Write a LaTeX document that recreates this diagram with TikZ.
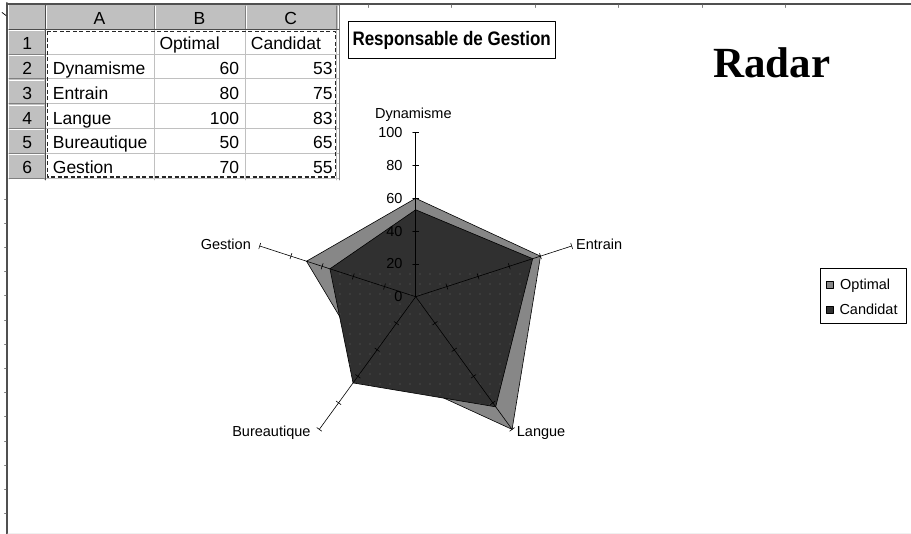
\documentclass[tikz,border=0pt]{standalone}
\usepackage{fontspec}
\setmainfont{Liberation Sans}
\newfontfamily\radarfont{Liberation Serif}
\usetikzlibrary{patterns.meta}
\definecolor{hdrgray}{HTML}{C0C0C0}
\definecolor{edgegray}{HTML}{808080}
\definecolor{optgray}{HTML}{878787}
\definecolor{candgray}{HTML}{303030}
\definecolor{framegray}{HTML}{505050}
\tikzset{
  cell/.style={inner sep=0pt, font=\fontsize{17.5}{20}\selectfont},
  chartlbl/.style={inner sep=0pt, font=\fontsize{14.5}{17}\selectfont},
  radaxis/.style={line width=0.6pt, black},
  optimal/.style={fill=optgray, draw=black, line width=0.6pt},
  candidat/.style={fill=candgray, draw=black, line width=0.6pt},
}
\begin{document}
\begin{tikzpicture}[line cap=round,line join=round,x=1pt,y=-1pt]
		\useasboundingbox (0,0) rectangle (911,534);
		\fill[white] (0,0) rectangle (911,534);
		% frame
		\draw[line width=1.8pt, framegray] (7,4) -- (911,4);
		\draw[line width=2pt, framegray] (7,3) -- (7,534);
		\draw[line width=0.8pt, gray!12] (8,533) -- (911,533);
		\draw[line width=0.7pt] (2,12.5) -- (6,15.5);
		\foreach \i in {0,...,5} \draw[edgegray, line width=0.8pt] (368+83.5*\i,5) -- (368+83.5*\i,7.5);
		\foreach \i in {0,...,13} \draw[edgegray, line width=0.8pt] (4.5,199+24.2*\i) -- (6,199+24.2*\i);
		% spreadsheet
		\fill[hdrgray] (9,5.5) rectangle (339,29.3);
		\fill[hdrgray] (9,5.5) rectangle (45,180);
		\foreach \x in {45,154,245,336.7} {
			\draw[edgegray, line width=1pt] (\x,6) -- (\x,29.3);
			\draw[white, line width=0.8pt] (\x+1.3,6) -- (\x+1.3,28.5);
		}
		\foreach \r in {0,...,6} {
			\draw[edgegray, line width=1pt] (9,29.3+24.8*\r) -- (45,29.3+24.8*\r);
			\draw[white, line width=0.8pt] (9.5,30.6+24.8*\r) -- (44,30.6+24.8*\r);
			\draw[hdrgray, line width=0.8pt] (45,29.3+24.8*\r) -- (339,29.3+24.8*\r);
		}
		\foreach \x in {154,245,336.7} \draw[hdrgray, line width=0.8pt] (\x,29.3) -- (\x,180);
		\draw[edgegray, line width=0.8pt] (339,5) -- (339,180);
		\draw[black!70, line width=1pt] (9,29.3) -- (339,29.3);
		\draw[black!70, line width=1pt] (45,5.5) -- (45,180);
		% headers
		\node[cell, anchor=base] (hA) at (99.5,25) {A};
		\node[cell, anchor=base] (hB) at (199.5,25) {B};
		\node[cell, anchor=base] (hC) at (290.8,25) {C};
		\foreach \r in {1,...,6} \node[cell, anchor=base] (n\r) at (27.3,25+24.8*\r) {\r};
		% cells
		\node[cell, anchor=base west] (B1) at (159.3,50) {Optimal};
		\node[cell, anchor=base west] (C1) at (250.7,50) {Candidat};
		\foreach \r/\lbl/\opt/\cand in {2/Dynamisme/60/53, 3/Entrain/80/75, 4/Langue/100/83, 5/Bureautique/50/65, 6/Gestion/70/55} {
			\node[cell, anchor=base west] (A\r) at (52.7,25+24.8*\r) {\lbl};
			\node[cell, anchor=base east] (B\r) at (239.3,25+24.8*\r) {\opt};
			\node[cell, anchor=base east] (C\r) at (332.7,25+24.8*\r) {\cand};
		}
		\draw[dash pattern=on 4pt off 2.5pt, line width=1.7pt, line cap=butt, black!85] (47.5,31.5) rectangle (335.5,177.3);
		% titles
		\node (titre) [draw, line width=1pt, minimum width=206.7pt, minimum height=36.6pt, inner sep=0pt,
			font=\bfseries\fontsize{17}{20}\selectfont] at (451.7,40) {\scalebox{1}[1.15]{Responsable de Gestion}};
		\node (radar) [inner sep=0pt, anchor=base, font=\radarfont\bfseries\fontsize{43}{48}\selectfont] at (771.7,77.3) {Radar};
		% radar chart
		\begin{scope}[shift={(415.7,296.7)}, x=1.64pt, y=1.64pt]
			\coordinate (O) at (0,0);
			\coordinate (aDyn) at (90:100);
			\coordinate (aEnt) at (18:100);
			\coordinate (aLan) at (-54:100);
			\coordinate (aBur) at (-126:100);
			\coordinate (aGes) at (162:100);
			\draw[optimal] (90:60) -- (18:80) -- (-54:100) -- (-126:50) -- (162:70) -- cycle;
			\draw[candidat] (90:53) -- (18:75) -- (-54:83) -- (-126:65) -- (162:55) -- cycle;
			\begin{scope}
				\clip (90:53) -- (18:75) -- (-54:83) -- (-126:65) -- (162:55) -- cycle;
				\fill[pattern={Dots[distance=10pt, radius=0.45pt]}, pattern color=gray!55] (-110,18) rectangle (110,-110);
			\end{scope}
			\draw[radaxis, line width=1pt] (O) -- (aDyn);
			\foreach \p in {aEnt,aLan,aBur,aGes} \draw[radaxis] (O) -- (\p);
			\foreach \a in {90,18,-54,-126,162}
				\foreach \r in {20,40,...,100}
					\draw[radaxis, rotate=\a] (\r,-1.8) -- (\r,1.8);
			\foreach \v in {0,20,...,100} \node[chartlbl, anchor=east] (t\v) at (-7.9,\v) {\v};
			\node[chartlbl, anchor=base] (lDyn) at ([xshift=-2.4pt, yshift=14.4pt]aDyn) {Dynamisme};
			\node[chartlbl, anchor=base west] (lEnt) at ([xshift=4.3pt, yshift=-3.3pt]aEnt) {Entrain};
			\node[chartlbl, anchor=base west] (lLan) at ([xshift=4.6pt, yshift=-7.3pt]aLan) {Langue};
			\node[chartlbl, anchor=base east] (lBur) at ([xshift=-8.6pt, yshift=-7.3pt]aBur) {Bureautique};
			\node[chartlbl, anchor=base east] (lGes) at ([xshift=-8.7pt, yshift=-3.3pt]aGes) {Gestion};
		\end{scope}
		% legend
		\node (legend) [draw, line width=0.8pt, minimum width=85.3pt, minimum height=55pt, inner sep=0pt] at (863.3,295.8) {};
		\draw[fill=optgray, line width=0.6pt] (826.7,281.7) rectangle (833.3,288.3);
		\draw[fill=candgray, line width=0.6pt] (826.7,306.7) rectangle (833.3,313.3);
		\node[chartlbl, anchor=base west] (legOpt) at (840,289.3) {Optimal};
		\node[chartlbl, anchor=base west] (legCand) at (839.3,315) {Candidat};
\end{tikzpicture}
\end{document}
